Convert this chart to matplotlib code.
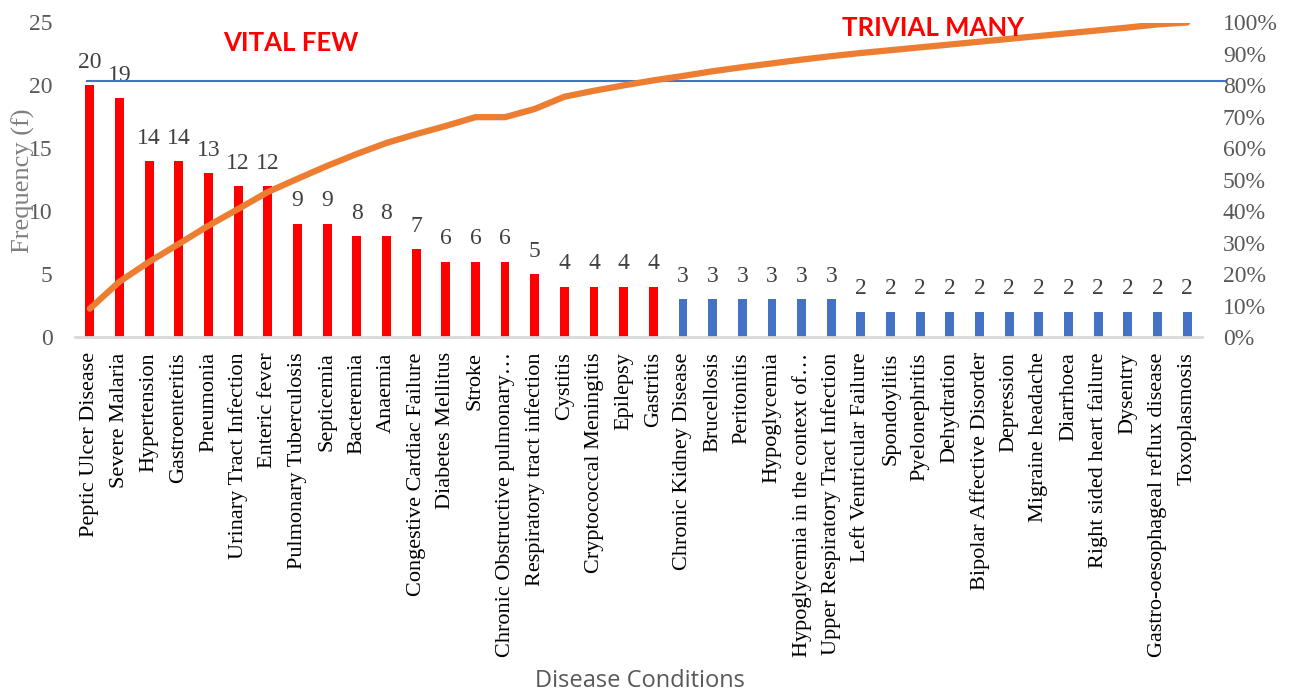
import matplotlib
matplotlib.use("Agg")
import matplotlib.pyplot as plt
from matplotlib.lines import Line2D
from matplotlib.ticker import PercentFormatter

categories = [
    "Peptic Ulcer Disease", "Severe Malaria", "Hypertension", "Gastroenteritis",
    "Pneumonia", "Urinary Tract Infection", "Enteric fever", "Pulmonary Tuberculosis",
    "Septicemia", "Bacteremia", "Anaemia", "Congestive Cardiac Failure",
    "Diabetes Mellitus", "Stroke", "Chronic Obstructive pulmonary\u2026",
    "Respiratory tract infection", "Cystitis", "Cryptococcal Meningitis", "Epilepsy",
    "Gastritis", "Chronic Kidney Disease", "Brucellosis", "Peritonitis", "Hypoglycemia",
    "Hypoglycemia in the context of\u2026", "Upper Respiratory Tract Infection",
    "Left Ventricular Failure", "Spondoylitis", "Pyelonephritis", "Dehydration",
    "Bipolar Affective Disorder", "Depression", "Migraine headache", "Diarrhoea",
    "Right sided heart failure", "Dysentry", "Gastro-oesophageal reflux disease",
    "Toxoplasmosis",
]
frequency = [20, 19, 14, 14, 13, 12, 12, 9, 9, 8, 8, 7, 6, 6, 6, 5, 4, 4, 4, 4,
             3, 3, 3, 3, 3, 3,
             2, 2, 2, 2, 2, 2, 2, 2, 2, 2, 2, 2]
cumulative_pct = [9.0, 17.6, 23.9, 29.6, 35.4, 40.7, 46.1, 50.3, 54.4, 58.2,
                  61.7, 64.5, 67.1, 69.9, 69.9, 72.5, 76.4, 78.3, 80.0, 81.6,
                  83.0, 84.5, 85.8, 87.0, 88.2, 89.3, 90.3, 91.2, 92.1, 93.0,
                  93.9, 94.8, 95.7, 96.6, 97.5, 98.4, 99.4, 100.0]
group = ["vital"] * 20 + ["trivial"] * 18
cutoff_pct = 81.5
left_ticks = [0, 5, 10, 15, 20, 25]
right_ticks = [0, 10, 20, 30, 40, 50, 60, 70, 80, 90, 100]

RED = "#FF0000"
BLUE = "#4472C4"
ORANGE = "#ED7D31"
SERIF = "Liberation Serif"

W, H = 1294, 694
fig = plt.figure(figsize=(W / 100, H / 100), dpi=100)
ax = fig.add_axes([75 / W, 1 - 337 / H, 1127 / W, (337 - 22.5) / H])
ax2 = ax.twinx()

x = list(range(len(categories)))
colors = [RED if g == "vital" else BLUE for g in group]
ax.bar(x, frequency, width=0.3, color=colors, zorder=2)

for xi, v in zip(x, frequency):
    ax.annotate(str(v), (xi, v), xytext=(0, 12.5), textcoords="offset points",
                ha="center", va="baseline", fontsize=17, family=SERIF,
                color="#404040")

ax.set_xlim(-0.5, len(categories) - 0.5)
ax.set_ylim(0, 25)
ax.set_yticks(left_ticks)
ax.set_xticks(x)
ax.set_xticklabels(categories, rotation=90, fontsize=16, family=SERIF, color="black")
ax.tick_params(axis="x", length=0, pad=11)
ax.tick_params(axis="y", length=0, pad=16, labelsize=17, labelcolor="#595959")
for lab in ax.get_yticklabels():
    lab.set_family(SERIF)

for s in ["top", "left", "right"]:
    ax.spines[s].set_visible(False)
    ax2.spines[s].set_visible(False)
ax2.spines["bottom"].set_visible(False)
ax.spines["bottom"].set_color("#D9D9D9")
ax.spines["bottom"].set_linewidth(2)

ax2.set_ylim(0, 100)
ax2.set_yticks(right_ticks)
ax2.yaxis.set_major_formatter(PercentFormatter(decimals=0))
ax2.tick_params(axis="y", length=0, pad=15, labelsize=17, labelcolor="#595959")
for lab in ax2.get_yticklabels():
    lab.set_family(SERIF)

# 80% cut-off line
ax2.add_line(Line2D([(87 - 75) / 1127, (1225 - 75) / 1127], [cutoff_pct, cutoff_pct],
                    transform=ax2.get_yaxis_transform(), color=BLUE, lw=1.5,
                    clip_on=False, zorder=2))
ax2.plot(x, cumulative_pct, color=ORANGE, lw=4.5, solid_capstyle="round",
         solid_joinstyle="round", zorder=3)

fig.text(291 / W, 1 - 43 / H, "VITAL FEW", ha="center", va="center",
         fontsize=18.5, fontweight="bold", family="Lato", color=RED, zorder=1)
fig.text(933 / W, 1 - 28.5 / H, "TRIVIAL MANY", ha="center", va="center",
         fontsize=18.5, fontweight="bold", family="Lato", color=RED, zorder=1)

fig.text(23 / W, 1 - 181 / H, "Frequency (f)", rotation=90, ha="center", va="center",
         fontsize=19, family=SERIF, color="#7F7F7F")
fig.text(640 / W, 1 - 681 / H, "Disease Conditions", ha="center", va="center",
         fontsize=17, family="Open Sans", color="#595959")

fig.savefig("out.png", dpi=100)
